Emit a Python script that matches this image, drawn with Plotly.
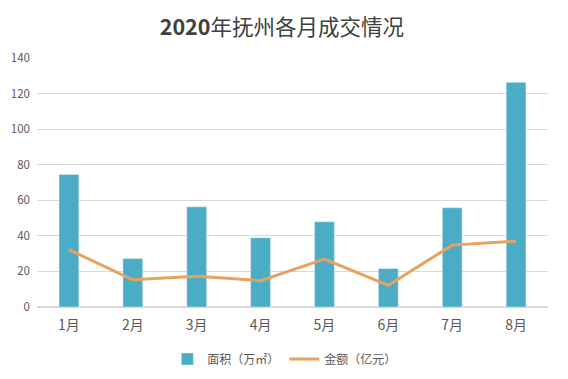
import plotly.graph_objects as go

months = ["1月", "2月", "3月", "4月", "5月", "6月", "7月", "8月"]
area = [74.5, 27.2, 56.3, 38.9, 47.9, 21.6, 55.8, 126.3]
amount = [32.2, 15.3, 17.3, 14.8, 26.9, 12.2, 34.8, 37.0]

W, H = 560, 371

fig = go.Figure()
fig.add_trace(go.Bar(x=months, y=area, name="面积（万㎡）", marker_color="#4BACC6"))
fig.add_trace(go.Scatter(x=months, y=amount, name="金额（亿元）", mode="lines",
                         line=dict(color="#E9A15F", width=3)))

fig.update_layout(
    width=W, height=H,
    paper_bgcolor="white", plot_bgcolor="white",
    margin=dict(l=29, r=20, t=50, b=72, pad=0),
    title=dict(text="<b>2020</b>年抚州各月成交情况", x=0.489, xanchor="center",
               y=1 - 19 / H, yanchor="middle",
               font=dict(size=21.5, color="#404040", family="Noto Sans CJK SC")),
    bargap=0.69,
    font=dict(family="Noto Sans CJK SC", color="#595959", size=12),
    legend=dict(orientation="h", x=0.485, xanchor="center", yref="container",
                y=20 / H, yanchor="middle",
                font=dict(size=12, color="#595959"), traceorder="normal", itemwidth=30),
    showlegend=True,
)
fig.update_yaxes(range=[0, 140], dtick=20, showgrid=True, gridcolor="#D9D9D9", zeroline=True,
                 zerolinecolor="#D9D9D9", ticks="", automargin=False, ticklabelstandoff=6,
                 tickfont=dict(size=11.5, color="#595959"))
fig.update_xaxes(showline=False, ticks="", automargin=False, ticklabelstandoff=8,
                 tickfont=dict(size=14, color="#595959"))
fig.write_html("out.html")
